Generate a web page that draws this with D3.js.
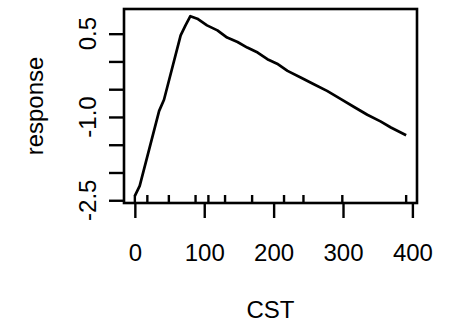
<!DOCTYPE html>
<html>
<head>
<meta charset="utf-8">
<script src="https://cdn.jsdelivr.net/npm/d3@7"></script>
<style>
  body { margin: 0; background: #fff; }
  text { font-family: "Liberation Sans", Arial, Helvetica, sans-serif; font-size: 24px; fill: #000; }
</style>
</head>
<body>
<svg id="chart" width="449" height="325"></svg>
<script>
// values
const cst = [0, 7, 35, 42, 66, 73, 80, 90, 104, 119, 133, 148, 162, 177, 191, 205, 220, 239, 258, 277, 297, 316, 335, 354, 369, 391]
const response = [-2.42, -2.24, -0.89, -0.69, 0.47, 0.65, 0.815, 0.77, 0.65, 0.56, 0.43, 0.35, 0.25, 0.16, 0.04, -0.04, -0.17, -0.29, -0.41, -0.53, -0.68, -0.82, -0.96, -1.08, -1.19, -1.33]
const rugX = [0, 18, 49, 87.5, 106, 130, 169, 215, 243, 299, 391]
const xTicks = [0, 100, 200, 300, 400]
const yTicks = [-2.5, -2, -1.5, -1, -0.5, 0, 0.5]
const yLabels = [-2.5, -1, 0.5]

const margin = { top: 9, right: 32, bottom: 122, left: 124 }
const width = 449 - margin.left - margin.right
const height = 325 - margin.top - margin.bottom

const svg = d3.select('#chart')
const g = svg.append('g').attr('transform', 'translate(' + margin.left + ',' + margin.top + ')')

// R style 4% padding around the data range
function padded(ext) {
    let d = (ext[1] - ext[0]) * 0.04
    return [ext[0] - d, ext[1] + d]
}
const x = d3.scaleLinear().domain(padded(d3.extent(cst))).range([0, width])
const y = d3.scaleLinear().domain(padded(d3.extent(response))).range([height, 0])

const data = cst.map((c, i) => ({ x: c, y: response[i] }))

// curve
g.append('path')
    .datum(data)
    .attr('fill', 'none')
    .attr('stroke', '#000')
    .attr('stroke-width', 2.7)
    .attr('stroke-linejoin', 'round')
    .attr('d', d3.line().x(d => x(d.x)).y(d => y(d.y)))

// rug
g.selectAll('.rug')
    .data(rugX)
    .enter().append('line')
    .attr('class', 'rug')
    .attr('x1', d => x(d)).attr('x2', d => x(d))
    .attr('y1', height).attr('y2', height - 8)
    .attr('stroke', '#000').attr('stroke-width', 2.4)

// axes
const xAxis = g.append('g')
    .attr('transform', 'translate(0,' + height + ')')
    .call(d3.axisBottom(x).tickValues(xTicks).tickSize(15).tickFormat(d => String(d)))
xAxis.select('.domain').remove()
xAxis.selectAll('line').attr('stroke-width', 2.4)
xAxis.selectAll('text').attr('y', 57.5).attr('dy', 0)
    .style('font-size', '24px').style('font-family', '"Liberation Sans", Arial, sans-serif')

const yAxis = g.append('g')
    .call(d3.axisLeft(y).tickValues(yTicks).tickSize(15).tickFormat(''))
yAxis.select('.domain').remove()
yAxis.selectAll('line').attr('stroke-width', 2.4)

// hyphen minus like R, not the unicode minus
g.selectAll('.ylab')
    .data(yLabels)
    .enter().append('text')
    .attr('class', 'ylab')
    .attr('text-anchor', 'middle')
    .attr('transform', d => 'translate(-28.5,' + y(d) + ') rotate(-90)')
    .text(d => d.toFixed(1))

// box
g.append('rect')
    .attr('width', width).attr('height', height)
    .attr('fill', 'none').attr('stroke', '#000').attr('stroke-width', 2.6)

// titles
svg.append('text')
    .attr('text-anchor', 'middle')
    .attr('x', margin.left + width / 2)
    .attr('y', 318)
    .text('CST')

svg.append('text')
    .attr('text-anchor', 'middle')
    .attr('transform', 'translate(43,' + (margin.top + height / 2) + ') rotate(-90)')
    .text('response')
</script>
</body>
</html>
